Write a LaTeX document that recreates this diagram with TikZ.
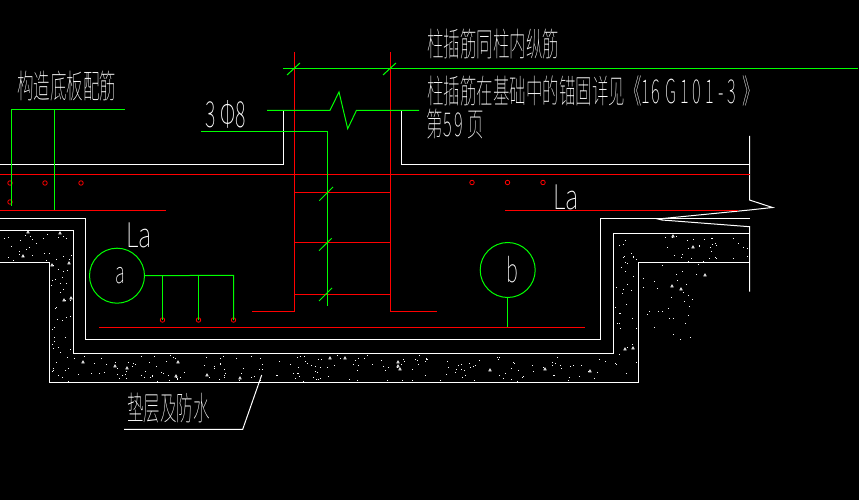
\documentclass[tikz,border=0pt]{standalone}
\usepackage{graphicx}
\usepackage{fontspec}
\setmainfont{Noto Sans CJK SC Thin}
\newcommand{\cad}[3]{\scalebox{#1}[1]{\fontsize{#2}{#2}\selectfont #3}}
\definecolor{cadgreen}{RGB}{0,255,0}
\definecolor{cadred}{RGB}{255,0,0}
\tikzset{
  wline/.style={draw=white,line width=1pt},
  rline/.style={draw=cadred,line width=1pt},
  gline/.style={draw=cadgreen,line width=1pt},
  bar/.style={draw=cadred,line width=.8pt,circle,inner sep=0pt,minimum size=4.5pt},
  tag/.style={draw=cadgreen,line width=1pt,circle,inner sep=0pt,minimum size=55pt,text=white},
  lbl/.style={text=white,inner sep=0pt,anchor=west}
}
\begin{document}
\begin{tikzpicture}[x=1pt,y=-1pt]
\fill[black] (0,0) rectangle (859,500);
\useasboundingbox (0,0) rectangle (859,500);
% outlines
\draw[wline] (0,164.5) -- (283.3,164.5) -- (283.3,110.3);
\draw[wline] (401.3,110.3) -- (401.3,164.3) -- (749.5,164.3);
\draw[wline] (0,218.3) -- (85.3,218.3) -- (85.3,339.3) -- (600.5,339.3) -- (600.5,218.3) -- (750,218.3);
\draw[wline] (0,230.3) -- (73.3,230.3) -- (73.3,353.3) -- (613.3,353.3) -- (613.3,233.3) -- (749.5,233.3);
\draw[wline] (0,262.3) -- (49.3,262.3) -- (49.3,382.3) -- (638.3,382.3) -- (638.3,262.3) -- (749.5,262.3);
\draw[wline] (749.5,136) -- (749.5,200) -- (772.5,207.5) -- (749.5,210) -- (658,219) -- (662,220) -- (749.5,226.7) -- (749.5,291.7);
\draw[wline] (124,429.3) -- (242.7,429.3) -- (261.7,375);
% speckle
\pgfmathsetseed{7}
\newcommand{\speck}[5]{\foreach \i in {1,...,#5}{\pgfmathsetmacro\sx{#1+rnd*(#3-#1)}\pgfmathsetmacro\sy{#2+rnd*(#4-#2)}\fill[white] (\sx,\sy) rectangle +(1,1);}}
\speck{0}{232}{72}{261}{28}
\speck{51}{263}{72}{381}{40}
\speck{74}{355}{612}{381}{190}
\speck{615}{235}{637}{381}{35}
\speck{660}{235}{748}{261}{32}
\speck{640}{263}{700}{340}{30}
\foreach \p in {(28,232),(60,233),(69,263),(23,256),(52,265),(64,300),(71,298),(83,362),(115,366),(127,368),(176,376),(207,375),(178,362),(240,378),(330,358),(345,358),(398,362),(400,369),(398,366),(490,370),(545,369),(590,371),(625,349),(633,348),(693,247),(673,236),(705,275),(681,289),(672,286)}
  \draw[white,line width=.6pt] \p +(-1.2,1) -- +(0,-1.2) -- +(1.2,1) -- cycle;
% reinforcing (red)
\draw[rline] (0,174.3) -- (750,174.3);
\draw[rline] (0,210.3) -- (165.5,210.3);
\draw[rline] (505,210.3) -- (738,210.3);
\draw[rline] (294.3,52) -- (294.3,311.3) -- (252,311.3);
\draw[rline] (390.3,52) -- (390.3,311.3) -- (436.7,311.3);
\foreach \y in {192.3,242.3,294.3} \draw[rline] (294.3,\y) -- (390.3,\y);
\draw[draw=cadred,line width=.7pt] (99,327.3) -- (585,327.3);
\foreach \p/\n in {(10,183)/b1,(45,183)/b2,(81,183)/b3,(10,202)/b4,(472,182.5)/b5,(507.5,182.5)/b6,(543,182.5)/b7,(162.5,320)/s1,(198.5,320)/s2,(233.5,320)/s3}
  \node[bar] (\n) at \p {};
% tags
\node[tag] (ca) at (117,275.7) {\hspace*{6pt}\cad{.6}{30}{a}};
\node[tag] (cb) at (507.7,270) {\hspace*{10pt}\raisebox{2pt}{\cad{.6}{33}{b}}};
\coordinate (bbase) at (507.7,327.3);
\draw[gline] (cb.south) -- (bbase);
\coordinate (aend) at (233.5,275.3);
\draw[gline] (ca.east) -- (aend) -- (s3.center);
\draw[gline] (162.5,275.3) -- (s1.center);
\draw[gline] (198.5,275.3) -- (s2.center);
% leaders (green)
\draw[gline] (283,68.3) -- (858,68.3);
\draw[gline] (287,75) -- (300,63);
\draw[gline] (383,75) -- (396,63);
\draw[gline] (267,110.3) -- (330,110.3) -- (339,92) -- (347.7,128.7) -- (356.5,110.3) -- (419,110.3);
\draw[gline] (201,131.3) -- (327.3,131.3) -- (327.3,305.7);
\draw[gline] (319.3,200.7) -- (333,187);
\draw[gline] (319,250.7) -- (331.7,238.3);
\draw[gline] (319,301) -- (332,288);
\draw[gline] (11,205.6) -- (11,109.5) -- (125,109.5);
\draw[gline] (54.3,109.5) -- (54.3,210.3);
% texts
\node[lbl] (t1) at (17,86) {\cad{.5}{33}{构造底板配筋}};
\node[lbl] (t2) at (427,44.5) {\cad{.5}{33}{柱插筋同柱内纵筋}};
\node[lbl] (t3) at (427,91) {\cad{.5}{33}{柱插筋在基础中的锚固详见《1\hspace{.1em}6\hspace{.3em}G\hspace{.24em}1\hspace{.24em}0\hspace{.24em}1\hspace{.24em}-\hspace{.24em}3\hspace{.4em}》}};
\node[lbl] (t4) at (426,124) {\cad{.5}{33}{第\hspace{.05em}5\hspace{.15em}9\hspace{.25em}页}};
\node[lbl] (t5) at (127,408) {\cad{.5}{33}{垫层及防水}};
\node[lbl] (t6) at (205,114) {\cad{.55}{36}{3\hspace{.25em}Φ8}};
\node[lbl] (t7) at (126,235) {\cad{.72}{34}{La}};
\node[lbl] (t8) at (553,197) {\cad{.72}{34}{La}};
\end{tikzpicture}
\end{document}
